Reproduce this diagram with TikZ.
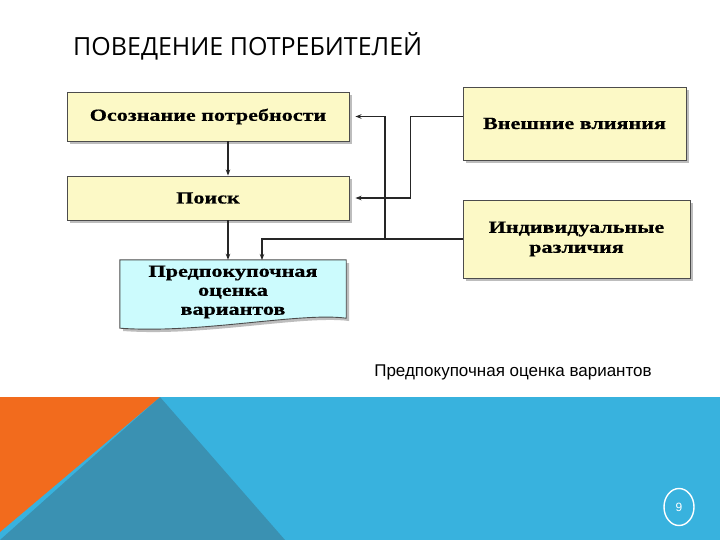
\documentclass[tikz,border=0pt]{standalone}
\usepackage{fontspec}
\setmainfont{Liberation Serif}
\newfontfamily\boxfont[FakeStretch=1.3,FakeBold=0.6]{Liberation Serif Bold}
\newfontfamily\titlefont{Open Sans}
\newfontfamily\capfont{Liberation Sans}
\usetikzlibrary{arrows.meta,shapes.geometric,calc}
\definecolor{boxyellow}{HTML}{FCF9C6}
\definecolor{doccyan}{HTML}{CCFBFD}
\definecolor{bandblue}{HTML}{38B2DE}
\definecolor{bandteal}{HTML}{3A91B2}
\definecolor{bandorange}{HTML}{F26B1D}
\definecolor{shadowgray}{HTML}{BDBDBD}
\begin{document}
\begin{tikzpicture}[x=1pt,y=-1pt,
  box/.style={draw=black!70, line width=0.9pt, fill=boxyellow, align=center, inner sep=0pt,
    font=\boxfont\fontsize{17}{20}\selectfont},
  conn/.style={line width=1.2pt, black!85},
  arr/.style={conn, -{Stealth[length=6pt,width=4.5pt]}}
]
\useasboundingbox (0,0) rectangle (720,540);
\fill[white] (0,0) rectangle (720,540);

% bottom band
\fill[bandblue] (0,397) rectangle (720,540);
\fill[bandteal] (160,397) -- (285,540) -- (0,540) -- cycle;
\fill[bandorange] (0,397) -- (160,397) -- (0,532) -- cycle;
\node[draw=white, line width=1.4pt, ellipse, minimum width=30, minimum height=37, inner sep=0pt,
  text=white, font=\capfont\fontsize{12}{14}\selectfont] (pg) at (679,507) {9};

% title
\node[anchor=base west, inner sep=0pt, font=\titlefont\fontsize{25}{30}\selectfont] (title) at (73,56) {ПОВЕДЕНИЕ ПОТРЕБИТЕЛЕЙ};

% shadows
\fill[shadowgray] (70,95) rectangle (352,144);
\fill[shadowgray] (70,179) rectangle (352,223);
\fill[shadowgray] (466,90) rectangle (689,163);
\fill[shadowgray] (466,203) rectangle (693,281);
\fill[shadowgray] (123,263) -- (349,263) -- (349,321) .. controls (303,315) and (203,337) .. (123,331) -- cycle;

% boxes
\node[box, minimum width=282, minimum height=49] (n1) at (208,116.5) {Осознание потребности};
\node[box, minimum width=282, minimum height=44] (n2) at (208,198) {Поиск};
\node[box, minimum width=223, minimum height=73] (n4) at (574.5,123.5) {Внешние влияния};
\node[box, minimum width=227, minimum height=78] (n5) at (576.5,239) {Индивидуальные\\различия};

% document shape
\node[minimum width=226, minimum height=58, inner sep=0pt] (n3) at (233,289) {};
\draw[draw=black!70, line width=0.9pt, fill=doccyan]
  (n3.north west) -- (n3.north east) -- (n3.south east)
  .. controls (300,312) and (200,334) .. ($(n3.south west)+(0,10)$) -- cycle;
\node[align=center, inner sep=0pt, font=\boxfont\fontsize{17}{19}\selectfont] (n3t) at (233,292) {Предпокупочная\\оценка\\вариантов};

% connectors
\coordinate (a1) at (228,0);
\coordinate (c3) at (262,260);
\coordinate (j) at (385,239);
\draw[arr] (n1.south -| a1) -- (n2.north -| a1);
\draw[arr] (n2.south -| a1) -- (n3.north -| a1);
\draw[arr] (n4.west |- n1.east) -- ++(-52,0) |- ($(n2.east)+(6,0)$);
\draw[arr] (n5.west) -| (c3);
\draw[arr] (j) |- ($(n1.east)+(6,0)$);

% caption
\node[inner sep=0pt, font=\capfont\fontsize{17}{20}\selectfont] (cap) at (513,372) {Предпокупочная оценка вариантов};
\end{tikzpicture}
\end{document}
